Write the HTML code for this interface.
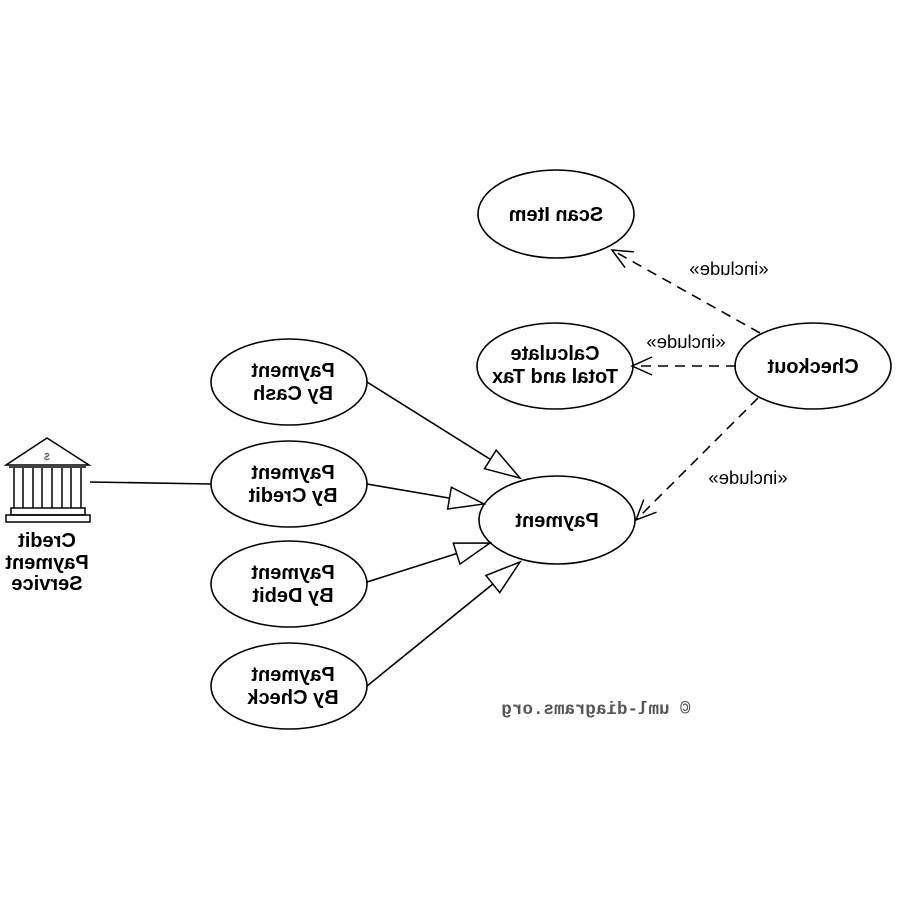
<!DOCTYPE html>
<html><head><meta charset="utf-8"><style>
html,body{margin:0;padding:0;background:#fff;}
svg{display:block;}
text{font-family:"Liberation Sans",Arial,sans-serif;font-weight:bold;font-size:20px;fill:#000;text-anchor:middle;}
.lbl{font-weight:normal;font-size:18.5px;}
.cp{font-family:"Liberation Mono","DejaVu Sans Mono",monospace;font-weight:bold;font-size:17.5px;fill:#555;}
</style></head><body>
<svg width="900" height="900" viewBox="0 0 900 900" xmlns="http://www.w3.org/2000/svg">
<defs>
<marker id="tri" markerUnits="userSpaceOnUse" markerWidth="40" markerHeight="26" refX="36" refY="12" orient="auto">
<path d="M1,1 L36,12 L1,23 Z" fill="#fff" stroke="#000" stroke-width="1.5"/>
</marker>
<marker id="open" markerUnits="userSpaceOnUse" markerWidth="26" markerHeight="26" refX="22" refY="12" orient="auto">
<path d="M2,3 L22,12 L2,21" fill="none" stroke="#000" stroke-width="1.5"/>
</marker>
</defs>
<g stroke="#000" stroke-width="1.6" fill="none">
<ellipse cx="556" cy="214" rx="78" ry="44" fill="#fff"/>
<ellipse cx="555" cy="366" rx="78" ry="43" fill="#fff"/>
<ellipse cx="813" cy="366" rx="78" ry="43" fill="#fff"/>
<ellipse cx="557" cy="520" rx="78" ry="44" fill="#fff"/>
<ellipse cx="289" cy="382" rx="78" ry="43" fill="#fff"/>
<ellipse cx="289" cy="484" rx="78" ry="43" fill="#fff"/>
<ellipse cx="289" cy="584" rx="78" ry="43" fill="#fff"/>
<ellipse cx="289" cy="686" rx="78" ry="43" fill="#fff"/>
<line x1="90" y1="482" x2="211" y2="484"/>
<line x1="367" y1="382" x2="520" y2="478" marker-end="url(#tri)"/>
<line x1="367" y1="484" x2="484" y2="504" marker-end="url(#tri)"/>
<line x1="367" y1="582" x2="490" y2="543" marker-end="url(#tri)"/>
<line x1="367" y1="686" x2="520" y2="562" marker-end="url(#tri)"/>
<line x1="760" y1="333" x2="612" y2="250" stroke-dasharray="10,7" marker-end="url(#open)"/>
<line x1="736" y1="366" x2="632" y2="366" stroke-dasharray="10,7" marker-end="url(#open)"/>
<line x1="758" y1="398" x2="636" y2="520" stroke-dasharray="10,7" marker-end="url(#open)"/>
<path d="M6,465 L47,438 L89,465 Z" stroke-width="1.5"/>
<g stroke-width="1.5">
<line x1="14" y1="468" x2="14" y2="508"/><line x1="23" y1="468" x2="23" y2="508"/>
<line x1="33" y1="468" x2="33" y2="508"/><line x1="42" y1="468" x2="42" y2="508"/>
<line x1="52" y1="468" x2="52" y2="508"/><line x1="62" y1="468" x2="62" y2="508"/>
<line x1="71" y1="468" x2="71" y2="508"/><line x1="81" y1="468" x2="81" y2="508"/>
<line x1="9" y1="467" x2="86" y2="467"/>
<rect x="11" y="508" width="74" height="7"/>
<rect x="6" y="515" width="84" height="7"/>
</g>
</g>
<g transform="scale(-1,1)">
<text x="-47" y="460" style="font-size:10px;font-weight:normal;fill:#444">$</text>
<text x="-47" y="547">Credit</text>
<text x="-47" y="569">Payment</text>
<text x="-47" y="590">Service</text>
<text x="-556" y="221">Scan Item</text>
<text x="-555" y="360">Calculate</text>
<text x="-555" y="383">Total and Tax</text>
<text x="-813" y="373">Checkout</text>
<text x="-557" y="527">Payment</text>
<text x="-293" y="377">Payment</text>
<text x="-293" y="400">By Cash</text>
<text x="-293" y="479">Payment</text>
<text x="-293" y="502">By Credit</text>
<text x="-293" y="579">Payment</text>
<text x="-293" y="602">By Debit</text>
<text x="-293" y="681">Payment</text>
<text x="-293" y="704">By Check</text>
<text class="lbl" x="-729" y="275">«include»</text>
<text class="lbl" x="-686" y="348">«include»</text>
<text class="lbl" x="-748" y="484">«include»</text>
<text class="cp" x="-596" y="714">© uml-diagrams.org</text>
</g>
</svg>
</body></html>
